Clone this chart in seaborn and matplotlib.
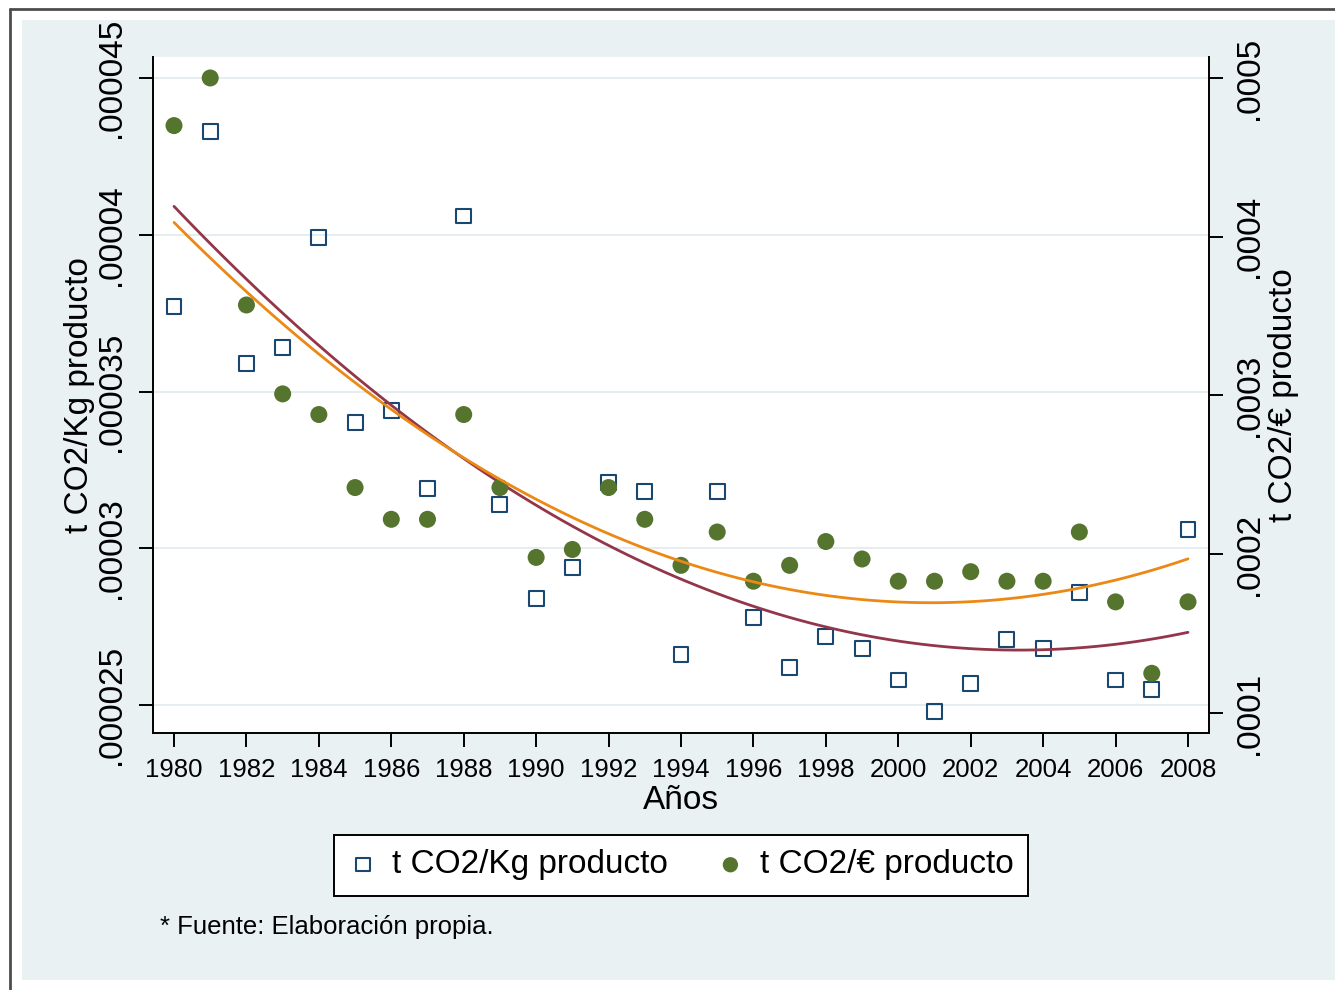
import numpy as np
import pandas as pd
import seaborn as sns
import matplotlib.pyplot as plt
from matplotlib.patches import Rectangle
from matplotlib.lines import Line2D

years = list(range(1980, 2009))
# t CO2 / Kg producto (left axis)
kg = [0.0000377, 0.0000433, 0.0000359, 0.0000364, 0.0000399, 0.0000340, 0.0000344, 0.0000319,
	0.0000406, 0.0000314, 0.0000284, 0.0000294, 0.0000321, 0.0000318, 0.0000266, 0.0000318,
	0.0000278, 0.0000262, 0.0000272, 0.0000268, 0.0000258, 0.0000248, 0.0000257, 0.0000271,
	0.0000268, 0.0000286, 0.0000258, 0.0000255, 0.0000306]
# t CO2 / euro producto (right axis)
eur = [0.000470, 0.000500, 0.000357, 0.000301, 0.000288, 0.000242, 0.000222, 0.000222,
	0.000288, 0.000242, 0.000198, 0.000203, 0.000242, 0.000222, 0.000193, 0.000214,
	0.000183, 0.000193, 0.000208, 0.000197, 0.000183, 0.000183, 0.000189, 0.000183,
	0.000183, 0.000214, 0.000170, 0.000125, 0.000170]

x_ticks = list(range(1980, 2009, 2))
left_ticks = [0.000025, 0.00003, 0.000035, 0.00004, 0.000045]
left_labels = ['.000025', '.00003', '.000035', '.00004', '.000045']
right_ticks = [0.0001, 0.0002, 0.0003, 0.0004, 0.0005]
right_labels = ['.0001', '.0002', '.0003', '.0004', '.0005']

navy = '#1a476f'
green = '#55752f'
maroon = '#93364a'
orange = '#ec8814'
bg = '#e9f1f3'

sns.set_style('white')
plt.rcParams['font.family'] = ['Liberation Sans', 'DejaVu Sans']
plt.rcParams.update({'text.color': 'black', 'axes.labelcolor': 'black',
	'xtick.color': 'black', 'ytick.color': 'black'})

W, H = 1335, 990
fig = plt.figure(figsize=(W / 100, H / 100), dpi=100, facecolor='white')
fig.patches.append(Rectangle((22 / W, 10 / H), 1 - 22 / W, 960 / H, transform=fig.transFigure,
	facecolor=bg, edgecolor='none', zorder=-5))
fig.add_artist(Line2D([10 / W, 10 / W], [0, 1 - 9 / H], color='#4d4d4d', lw=2, transform=fig.transFigure))
fig.add_artist(Line2D([10 / W, 1], [1 - 9 / H, 1 - 9 / H], color='#4d4d4d', lw=2, transform=fig.transFigure))

ax = fig.add_axes([153 / W, 1 - 733 / H, 1056 / W, 676 / H])
ax.set_facecolor('white')
ax2 = ax.twinx()

sns.scatterplot(x=years, y=kg, ax=ax, marker='s', s=115, facecolors='none', edgecolor=navy,
	linewidth=1.5, label='t CO2/Kg producto', legend=False, zorder=3)
sns.regplot(x=years, y=kg, ax=ax, order=2, ci=None, scatter=False,
	line_kws={'color': maroon, 'lw': 2, 'zorder': 4})
sns.scatterplot(x=years, y=eur, ax=ax2, marker='o', s=150, color=green, edgecolor='none',
	label='t CO2/€ producto', legend=False, zorder=3)
sns.regplot(x=years, y=eur, ax=ax2, order=2, ci=None, scatter=False,
	line_kws={'color': orange, 'lw': 2, 'zorder': 4})

ax.set_xlim(1979.42, 2008.58)
ax.set_ylim(0.00002411, 0.00004567)
ax2.set_ylim(0.0000874, 0.0005132)

ax.set_xticks(x_ticks)
ax.set_xticklabels([str(t) for t in x_ticks])
ax.set_yticks(left_ticks)
ax.set_yticklabels(left_labels, rotation=90, va='center')
ax2.set_yticks(right_ticks)
ax2.set_yticklabels(right_labels, rotation=90, va='center')

ax.grid(axis='y', color='#e3ecef', lw=1.3)
ax.grid(axis='x', visible=False)
ax.set_axisbelow(True)

for s in ['top', 'right']:
	ax.spines[s].set_visible(False)
for s in ['top', 'left', 'bottom']:
	ax2.spines[s].set_visible(False)
for sp in [ax.spines['left'], ax.spines['bottom'], ax2.spines['right']]:
	sp.set_color('black')
	sp.set_linewidth(1.4)

ax.tick_params(axis='x', direction='out', length=10, width=1.4, labelsize=18.5, pad=8, bottom=True)
ax.tick_params(axis='y', direction='out', length=10, width=1.4, labelsize=24, pad=9, left=True)
ax2.tick_params(axis='y', direction='out', length=10, width=1.4, labelsize=24, pad=8, right=True)

ax.set_xlabel('Años', fontsize=24)
ax.xaxis.set_label_coords(0.5, -0.077)
ax.set_ylabel('t CO2/Kg producto', fontsize=24)
ax.yaxis.set_label_coords(-0.055, 0.5)
ax2.set_ylabel('t CO2/€ producto', fontsize=24)
ax2.yaxis.set_label_coords(1.056, 0.5)

handles = [ax.collections[0], ax2.collections[0]]
leg = fig.legend(handles, ['t CO2/Kg producto', 't CO2/€ producto'], loc='center',
	bbox_to_anchor=(681 / W, 1 - 865 / H), ncol=2, fontsize=24, frameon=True, fancybox=False,
	edgecolor='black', framealpha=1, markerscale=0.9, handletextpad=0.45, columnspacing=1.45,
	borderpad=0.45, handlelength=0.85)
leg.get_frame().set_linewidth(1.4)

fig.text(160 / W, 1 - 927 / H, '* Fuente: Elaboración propia.', fontsize=18.5, va='center', ha='left')

fig.savefig('out.png', dpi=100, facecolor=fig.get_facecolor())
